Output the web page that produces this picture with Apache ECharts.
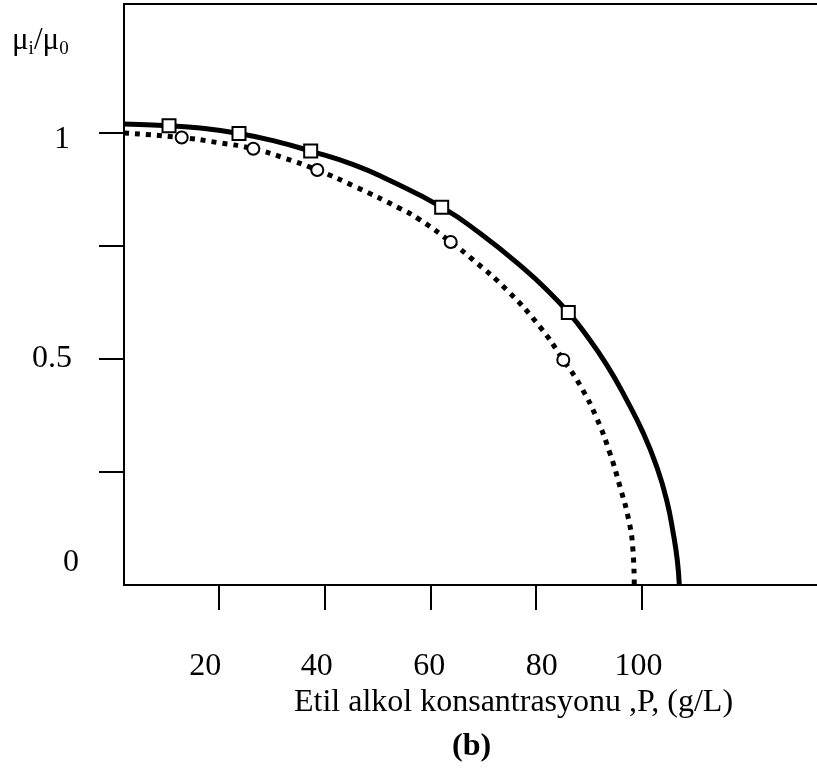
<!DOCTYPE html>
<html>
<head>
<meta charset="utf-8">
<script src="https://cdn.jsdelivr.net/npm/echarts@6/dist/echarts.min.js"></script>
<style>
  html, body { margin: 0; padding: 0; background: #fff; }
  #chart { width: 817px; height: 771px; }
</style>
</head>
<body>
<div id="chart"></div>
<script>
// Relative specific growth rate vs. ethanol concentration
const xTicks = [20, 40, 60, 80, 100];
const yLabels = [0, 0.5, 1];
const yTicks = [0.25, 0.5, 0.75, 1];

// solid model curve and its square data points
const solidP  = [1.97, 10.50, 16.37, 23.76, 30.58, 37.34, 45.42, 51.74, 62.16, 69.42, 77.62, 82.68, 86.15, 88.99, 93.43, 97.22, 100.36, 102.90, 104.79, 106.04, 106.80, 107.18];
const solidMu = [1.020, 1.016, 1.011, 0.999, 0.982, 0.960, 0.930, 0.898, 0.836, 0.778, 0.701, 0.646, 0.603, 0.562, 0.487, 0.409, 0.336, 0.262, 0.188, 0.114, 0.055, 0];
const squareP  = [10.50, 23.76, 37.34, 62.16, 86.15];
const squareMu = [1.016, 0.999, 0.960, 0.836, 0.603];

// dotted model curve and its circle data points
const dottedP  = [1.97, 12.90, 19.6, 26.47, 32.5, 38.59, 46.0, 54.26, 58.05, 63.87, 68.15, 74.48, 80.79, 85.20, 88.37, 91.53, 94.05, 95.95, 97.52, 98.35, 98.65];
const dottedMu = [1.000, 0.990, 0.979, 0.965, 0.944, 0.918, 0.880, 0.833, 0.808, 0.759, 0.719, 0.653, 0.571, 0.498, 0.442, 0.369, 0.291, 0.217, 0.148, 0.085, 0];
const circleP  = [12.90, 26.47, 38.59, 63.87, 85.20];
const circleMu = [0.990, 0.965, 0.918, 0.759, 0.498];

const pairs = (xs, ys) => xs.map((x, i) => [x, ys[i]]);
const FONT = 'Liberation Serif';
const BLACK = '#000';
const FS = 32;

const txt = (extra) => Object.assign({ fontFamily: FONT, fontSize: FS, color: BLACK, lineHeight: FS, fontWeight: 'normal' }, extra || {});

// x tick labels sit a little off their ticks, nudged via padding
const xLabelStyle = {
  20: 'a', 40: 'b', 60: 'c', 80: 'd', 100: 'e'
};

const chart = echarts.init(document.getElementById('chart'), null, { renderer: 'canvas' });

chart.setOption({
  animation: false,
  backgroundColor: '#fff',
  title: [
    {
      text: '{m|μ}{s|i}{m|/μ}{s|0}',
      left: 12, top: 22, padding: 0,
      textStyle: {
        fontWeight: 'normal',
        rich: {
          m: { fontFamily: FONT, fontSize: 31, color: BLACK, fontWeight: 'normal' },
          s: { fontFamily: FONT, fontSize: 19, color: BLACK, fontWeight: 'normal', padding: [18, 0, 0, 0] }
        }
      }
    },
    {
      text: 'Etil alkol konsantrasyonu ,P, (g/L)',
      left: 294, top: 687, padding: 0,
      textStyle: txt()
    },
    {
      text: '(b)',
      left: 452, top: 731, padding: 0,
      textStyle: txt({ fontWeight: 'bold' })
    }
  ],
  grid: { left: 124, right: 0, top: 4, bottom: 186, containLabel: false, outerBoundsMode: 'none' },
  xAxis: [
    {
      type: 'value', position: 'bottom',
      min: 1.97, max: 133.27,
      splitLine: { show: false },
      axisLine: { show: true, onZero: false, lineStyle: { color: BLACK, width: 2 } },
      axisTick: { show: true, inside: false, length: 25, customValues: xTicks, lineStyle: { color: BLACK, width: 2 } },
      axisLabel: Object.assign(txt(), {
        show: true, customValues: xTicks, margin: 66,
        formatter: v => '{' + xLabelStyle[v] + '|' + v + '}',
        rich: {
          a: txt({ padding: [0, 28, 0, 0] }),
          b: txt({ padding: [0, 16, 0, 0] }),
          c: txt({ padding: [0, 2, 0, 0] }),
          d: txt({ padding: [0, 0, 0, 12] }),
          e: txt({ padding: [0, 6, 0, 0] })
        }
      })
    },
    {
      type: 'value', position: 'top',
      min: 1.97, max: 133.27,
      splitLine: { show: false },
      axisLine: { show: true, onZero: false, lineStyle: { color: BLACK, width: 2 } },
      axisTick: { show: false },
      axisLabel: { show: false }
    }
  ],
  yAxis: {
    type: 'value',
    min: 0, max: 1.2854,
    splitLine: { show: false },
    axisLine: { show: true, onZero: false, lineStyle: { color: BLACK, width: 2 } },
    axisTick: { show: true, inside: false, length: 25, customValues: yTicks, lineStyle: { color: BLACK, width: 2 } },
    axisLabel: Object.assign(txt(), {
      show: true, customValues: yLabels, margin: 45,
      formatter: v => v === 0 ? '{lo|0}' : (v === 1 ? '{hi|1}' : '{mid|' + v + '}'),
      rich: {
        lo: txt({ padding: [0, 0, 44, 0] }),
        mid: txt({ padding: [0, 7, 0, 0] }),
        hi: txt({ padding: [14, 9, 0, 0] })
      }
    })
  },
  series: [
    {
      type: 'line', data: pairs(solidP, solidMu),
      smooth: 0.5, symbol: 'none', clip: false,
      lineStyle: { color: BLACK, width: 5, type: 'solid' },
      z: 2
    },
    {
      type: 'line', data: pairs(dottedP, dottedMu),
      smooth: 0.5, symbol: 'none', clip: false,
      lineStyle: { color: BLACK, width: 5, type: [5, 6], cap: 'butt' },
      z: 2
    },
    {
      type: 'scatter', data: pairs(squareP, squareMu),
      symbol: 'rect', symbolSize: 13,
      itemStyle: { color: '#fff', borderColor: BLACK, borderWidth: 2, opacity: 1 },
      z: 5
    },
    {
      type: 'scatter', data: pairs(circleP, circleMu),
      symbol: 'circle', symbolSize: 12,
      itemStyle: { color: '#fff', borderColor: BLACK, borderWidth: 2, opacity: 1 },
      z: 5
    }
  ]
});
</script>
</body>
</html>
